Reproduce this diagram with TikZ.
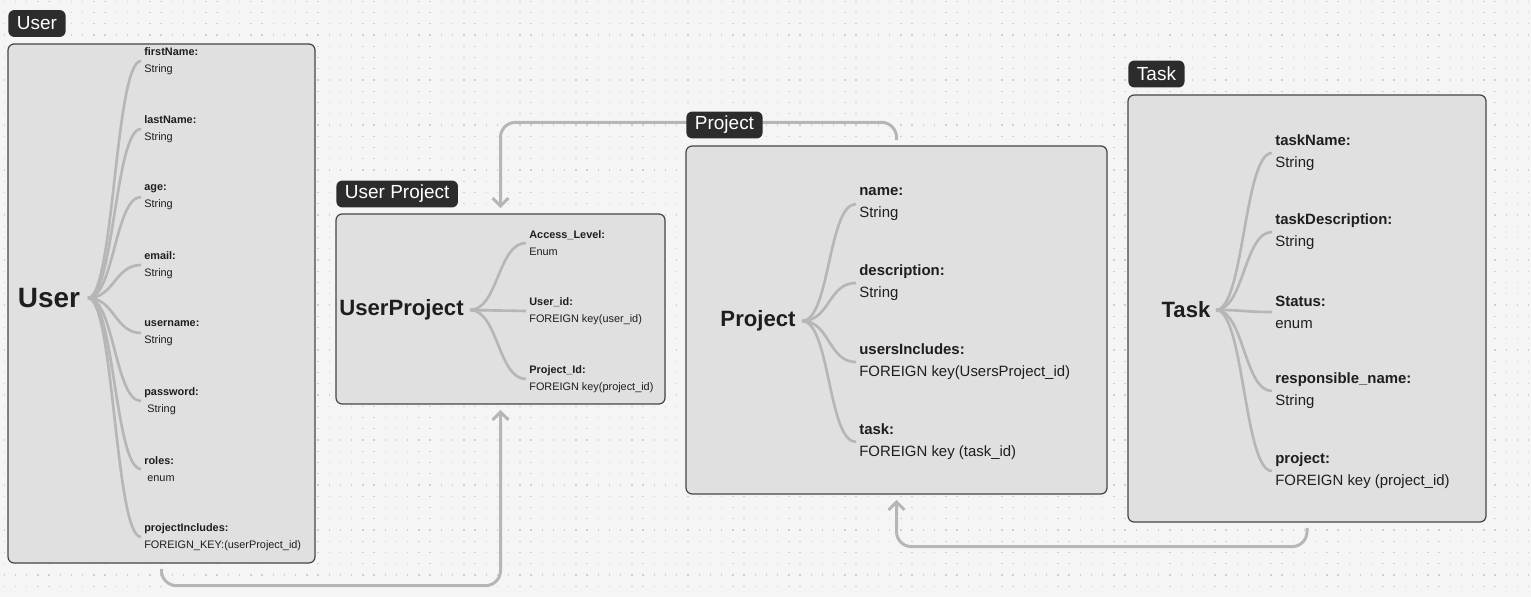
\documentclass[tikz,border=0pt]{standalone}
\usepackage{fontspec}
\setmainfont{Liberation Sans}
\usepackage{xcolor}
\usepackage{tikz}
\usetikzlibrary{arrows.meta, fit, positioning}

\definecolor{bgc}{HTML}{F5F5F5}
\definecolor{dotc}{HTML}{CFCFCF}
\definecolor{boxc}{HTML}{E0E0E0}
\definecolor{edgec}{HTML}{454545}
\definecolor{linkc}{HTML}{B6B6B6}
\definecolor{tagc}{HTML}{2C2C2C}
\definecolor{ink}{HTML}{1E1E1E}

\begin{document}
\begin{tikzpicture}[x=0.02cm, y=-0.02cm, >={Straight Barb[length=4.5pt, width=9pt]},
    box/.style={draw=edgec, line width=0.7pt, fill=boxc, rounded corners=3.5pt, inner sep=0pt},
    tag/.style={fill=tagc, text=white, rounded corners=3.4pt, anchor=west,
        font=\fontsize{10.8}{12}\selectfont, inner xsep=4.9pt, minimum height=15.3pt, inner ysep=0pt},
    title/.style={text=ink, font=\bfseries\fontsize{12.6}{14}\selectfont, inner sep=0pt},
    link/.style={draw=linkc, line width=1.7pt, rounded corners=8.5pt, shorten <=3pt, shorten >=3pt, ->},
    branch/.style={draw=linkc, line width=1.5pt},
    fieldS/.style={text=ink, align=left, anchor=west, inner xsep=1.7pt, inner ysep=0pt,
        font=\fontsize{6.2}{9.6}\selectfont},
    fieldL/.style={text=ink, align=left, anchor=west, inner xsep=1.7pt, inner ysep=0pt,
        font=\fontsize{8.5}{12.6}\selectfont}]

    % Canvas and dot grid
    \fill[bgc] (0,0) rectangle (1531,597);
    \useasboundingbox (0,0) rectangle (1531,597);
    \foreach \y in {1.25,12.5,...,597}
        \draw[dotc, line width=0.8pt, dash pattern=on 0.8pt off 5.58pt, dash phase=-2pt] (0,\y) -- (1531,\y);

    % Entity boxes
    \node[box, fit={(8,44) (315,563)}] (user) {};
    \node[box, fit={(336,214) (665,404)}] (upr) {};
    \node[box, fit={(686,146) (1107,494)}] (project) {};
    \node[box, fit={(1128,95) (1486,522)}] (task) {};

    % Relations between the boxes
    \draw[link] (user.south) -- ++(0,22) -| (upr.south);
    \draw[link] (project.north) -- ++(0,-23) -| (upr.north);
    \draw[link] (task.south) -- ++(0,24) -| (project.south);

    % User
    \node[title, font=\bfseries\fontsize{15.9}{18}\selectfont] (uTitle) at (49,298) {User};
    \coordinate (uRoot) at (88,298);
    \node[fieldS] (uFirst) at (141,61) {\textbf{firstName:}\\String};
    \node[fieldS] (uLast) at (141,129) {\textbf{lastName:}\\String};
    \node[fieldS] (uAge) at (141,197) {\textbf{age:}\\String};
    \node[fieldS] (uMail) at (141,265) {\textbf{email:}\\String};
    \node[fieldS] (uName) at (141,333) {\textbf{username:}\\String};
    \node[fieldS] (uPass) at (141,401) {\textbf{password:}\\\ String};
    \node[fieldS] (uRoles) at (141,469) {\textbf{roles:}\\\ enum};
    \node[fieldS] (uProj) at (141,537) {\textbf{projectIncludes:}\\FOREIGN\_KEY:(userProject\_id)};
    \foreach \f in {uFirst, uLast, uAge, uMail, uName, uPass, uRoles, uProj}
        \draw[branch] (uRoot) .. controls +(26,0) and +(-26,0) .. (\f.west);

    % UserProject
    \node[title] (upTitle) at (401.5,310) {UserProject};
    \coordinate (upRoot) at (470,310);
    \node[fieldS] (upLevel) at (526,243) {\textbf{Access\_Level:}\\Enum};
    \node[fieldS] (upUser) at (526,311) {\textbf{User\_id:}\\FOREIGN key(user\_id)};
    \node[fieldS] (upProj) at (526,379) {\textbf{Project\_Id:}\\FOREIGN key(project\_id)};
    \foreach \f in {upLevel, upUser, upProj}
        \draw[branch] (upRoot) .. controls +(28,0) and +(-28,0) .. (\f.west);

    % Project
    \node[title] (pTitle) at (758,321) {Project};
    \coordinate (pRoot) at (802,321);
    \node[fieldL] (pName) at (856,204) {\textbf{name:}\\String};
    \node[fieldL] (pDesc) at (856,283) {\textbf{description:}\\String};
    \node[fieldL] (pUsers) at (856,362) {\textbf{usersIncludes:}\\FOREIGN key(UsersProject\_id)};
    \node[fieldL] (pTask) at (856,442) {\textbf{task:}\\FOREIGN key (task\_id)};
    \foreach \f in {pName, pDesc, pUsers, pTask}
        \draw[branch] (pRoot) .. controls +(28,0) and +(-28,0) .. (\f.west);

    % Task
    \node[title] (tTitle) at (1186,310) {Task};
    \coordinate (tRoot) at (1216,310);
    \node[fieldL] (tName) at (1272,153) {\textbf{taskName:}\\String};
    \node[fieldL] (tDesc) at (1272,232) {\textbf{taskDescription:}\\String};
    \node[fieldL] (tStat) at (1272,312) {\textbf{Status:}\\enum};
    \node[fieldL] (tResp) at (1272,391) {\textbf{responsible\_name:}\\String};
    \node[fieldL] (tProj) at (1272,471) {\textbf{project:}\\FOREIGN key (project\_id)};
    \foreach \f in {tName, tDesc, tStat, tResp, tProj}
        \draw[branch] (tRoot) .. controls +(28,0) and +(-28,0) .. (\f.west);

    % Tags above the boxes
    \node[tag] (userTag) at (8,23.5) {User};
    \node[tag] (uprTag) at (336,194) {User Project};
    \node[tag] (projectTag) at (686,125) {Project};
    \node[tag] (taskTag) at (1128,74) {Task};
\end{tikzpicture}
\end{document}
